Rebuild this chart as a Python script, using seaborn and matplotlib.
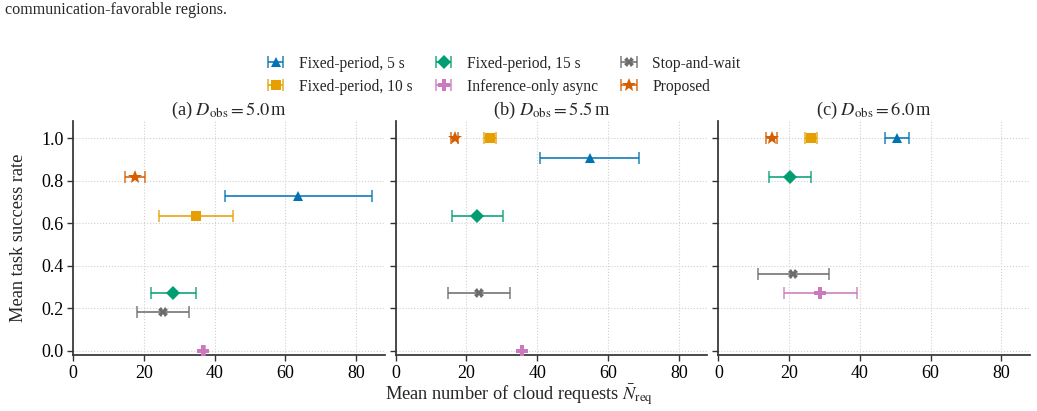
import numpy as np
import pandas as pd
import matplotlib
matplotlib.use('Agg')
import matplotlib.pyplot as plt
import seaborn as sns

# Datos (y = fraccion de 11 ensayos)
metodos = ['Fixed-period, 5 s', 'Fixed-period, 10 s', 'Fixed-period, 15 s',
           'Inference-only async', 'Stop-and-wait', 'Proposed']
marcadores = ['^', 's', 'D', 'P', 'X', '*']
paneles = ['(a) $D_{\\rm obs} = 5.0\\,$m', '(b) $D_{\\rm obs} = 5.5\\,$m',
           '(c) $D_{\\rm obs} = 6.0\\,$m']

# media de peticiones por metodo, en el orden de "metodos"
x_a = [63.6, 34.8, 28.3, 36.8, 25.4, 17.5]
x_b = [54.8, 26.6, 23.0, 35.7, 23.5, 16.7]
x_c = [50.5, 26.1, 20.2, 28.8, 21.2, 15.1]
# media de la barra de error horizontal
err_a = [20.8, 10.5, 6.4, 0.4, 7.4, 2.7]
err_b = [14.0, 1.6, 7.2, 0.4, 8.7, 1.0]
err_c = [3.5, 1.7, 6.0, 10.3, 10.0, 1.6]
# tasa de exito
y_a = [8/11, 7/11, 3/11, 0.0, 2/11, 9/11]
y_b = [10/11, 1.0, 7/11, 0.0, 3/11, 1.0]
y_c = [1.0, 1.0, 9/11, 3/11, 4/11, 1.0]

xs = [x_a, x_b, x_c]
errs = [err_a, err_b, err_c]
ys = [y_a, y_b, y_c]

pal = sns.color_palette('colorblind')
colores = [pal[0], '#E69F00', pal[2], pal[4], '#6b6b6b', pal[3]]
tamanos = [7, 7, 7.5, 8, 7, 10]

sns.set_theme(style='ticks')
plt.rcParams['font.family'] = ['Liberation Serif', 'DejaVu Serif']
plt.rcParams['mathtext.fontset'] = 'stix'
plt.rcParams['font.size'] = 13

fig, axes = plt.subplots(1, 3, figsize=(10.37, 4.11), dpi=100, sharey=True)
fig.subplots_adjust(left=0.0705, right=0.993, bottom=0.136, top=0.706, wspace=0.036)

for k, ax in enumerate(axes):
    for i, m in enumerate(metodos):
        eb = ax.errorbar(xs[k][i], ys[k][i], xerr=errs[k][i], fmt=marcadores[i],
                         color=colores[i], elinewidth=1.4, capsize=4, capthick=1.2,
                         markersize=tamanos[i], label=m, zorder=3)
        eb[0].set_markeredgewidth(0)
        for art in eb[1] + eb[2]:
            art.set_alpha(0.8)
    ax.set_xlim(0, 88)
    ax.set_ylim(-0.02, 1.083)
    ax.set_xticks([0, 20, 40, 60, 80])
    ax.set_yticks([0.0, 0.2, 0.4, 0.6, 0.8, 1.0])
    ax.grid(True, linestyle=':', color='#d0d0d0', linewidth=0.8)
    ax.set_axisbelow(True)
    ax.set_title(paneles[k], fontsize=13.2, pad=-1)
    ax.tick_params(labelsize=13, length=4, width=1, colors='#333333',
                   labelcolor='black', pad=3)
    for s in ['left', 'bottom']:
        ax.spines[s].set_color('#333333')
    sns.despine(ax=ax)

axes[0].set_ylabel('Mean task success rate', fontsize=13.2, labelpad=10)
fig.text(0.5, 0.04, 'Mean number of cloud requests $\\bar{N}_{\\rm req}$',
         ha='center', va='center', fontsize=13.2)

handles, labels = axes[0].get_legend_handles_labels()
fig.legend(handles, labels, loc='upper center', bbox_to_anchor=(0.4855, 0.899),
           ncol=3, frameon=False, fontsize=11.2, handlelength=1.2,
           columnspacing=1.4, labelspacing=0.45, handletextpad=0.9)

fig.text(0.005, 0.975, 'communication-favorable regions.', fontsize=11.6,
         ha='left', va='center')

fig.savefig('out.png', dpi=100)
